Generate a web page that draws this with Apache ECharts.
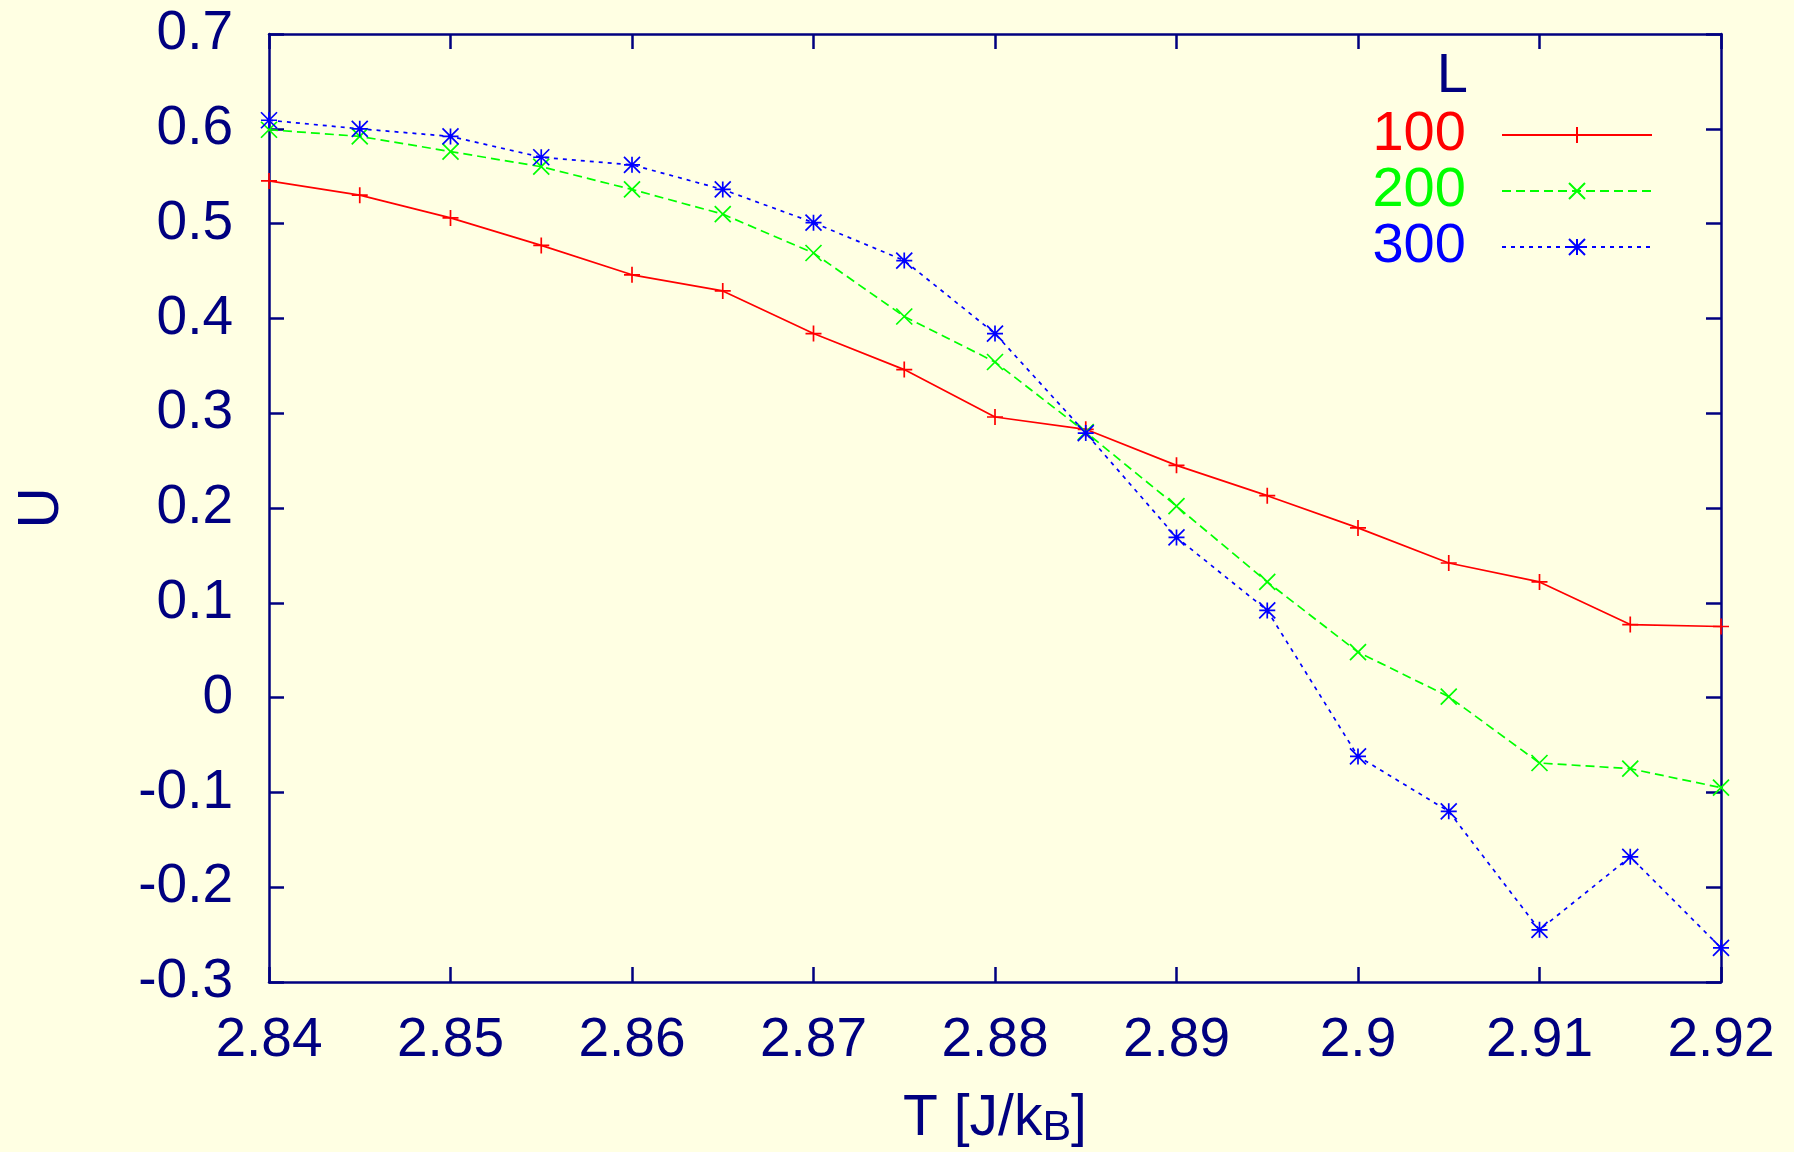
<!DOCTYPE html>
<html>
<head>
<meta charset="utf-8">
<script src="https://cdn.jsdelivr.net/npm/echarts@6/dist/echarts.min.js"></script>
<style>
html,body{margin:0;padding:0;background:#ffffe3;}
#chart{width:1794px;height:1152px;}
</style>
</head>
<body>
<div id="chart"></div>
<script>
// Data
var temperatures = [2.84, 2.845, 2.85, 2.855, 2.86, 2.865, 2.87, 2.875, 2.88, 2.885, 2.89, 2.895, 2.9, 2.905, 2.91, 2.915, 2.92];
var seriesNames = ['100', '200', '300'];
var u100 = [0.545, 0.530, 0.506, 0.477, 0.446, 0.429, 0.384, 0.346, 0.296, 0.283, 0.245, 0.213, 0.179, 0.142, 0.122, 0.077, 0.075];
var u200 = [0.599, 0.592, 0.576, 0.560, 0.536, 0.510, 0.469, 0.402, 0.354, 0.280, 0.202, 0.122, 0.048, 0.001, -0.069, -0.075, -0.095];
var u300 = [0.609, 0.600, 0.592, 0.570, 0.562, 0.536, 0.501, 0.461, 0.384, 0.279, 0.169, 0.092, -0.062, -0.120, -0.245, -0.168, -0.264];
var xTicks = {min: 2.84, max: 2.92, step: 0.01};
var yTicks = {min: -0.3, max: 0.7, step: 0.1};

var navy = '#000080';
var font = 'Liberation Sans';

function zip(xs, ys) { return xs.map(function (x, i) { return [x, ys[i]]; }); }
function fmt(v) { return String(parseFloat(v.toFixed(3))); }

var symPlus = 'path://M0,-1L0,1M-1,0L1,0';
var symCross = 'path://M-1,-1L1,1M-1,1L1,-1';
var symStar = 'path://M0,-1L0,1M-1,0L1,0M-1,-1L1,1M-1,1L1,-1';

var chart = echarts.init(document.getElementById('chart'), null, {renderer: 'canvas'});

var axisLineStyle = {color: navy, width: 2.5};
var tickStyle = {color: navy, width: 2.5};

function makeSeries(name, data, color, symbol, type, size) {
  return {
    name: name,
    type: 'line',
    xAxisIndex: 0,
    yAxisIndex: 0,
    data: zip(temperatures, data),
    symbol: symbol,
    symbolSize: size,
    showAllSymbol: true,
    color: color,
    lineStyle: {color: color, width: 1.7, type: type},
    itemStyle: {color: color, borderColor: color, borderWidth: 1.7},
    emphasis: {disabled: true},
    animation: false,
    z: 3
  };
}

var option = {
  backgroundColor: '#ffffe3',
  animation: false,
  title: {
    text: 'L',
    right: 326,
    top: 49,
    padding: 0,
    textStyle: {color: navy, fontFamily: font, fontSize: 56, fontWeight: 'normal', lineHeight: 56}
  },
  legend: {
    orient: 'vertical',
    align: 'right',
    right: 141,
    top: 107,
    padding: 0,
    itemGap: 0,
    itemWidth: 150,
    itemHeight: 20,
    formatter: function (n) { return n + '  '; },
    textStyle: {fontFamily: font, fontSize: 56, lineHeight: 56},
    data: [
      {name: seriesNames[0], textStyle: {color: '#ff0000'}},
      {name: seriesNames[1], textStyle: {color: '#00ff00'}},
      {name: seriesNames[2], textStyle: {color: '#0000ff'}}
    ],
    selectedMode: false
  },
  grid: {left: 269, top: 34, right: 73, bottom: 170, containLabel: false, outerBoundsMode: 'none'},
  xAxis: [{
    type: 'value',
    position: 'bottom',
    min: xTicks.min, max: xTicks.max, interval: xTicks.step,
    name: '{a|T [J/k}{sub|B}{a|]}',
    nameLocation: 'middle',
    nameGap: 109,
    nameTextStyle: {
      rich: {
        a: {fontFamily: font, fontSize: 57, color: navy, lineHeight: 30, verticalAlign: 'top'},
        sub: {fontFamily: font, fontSize: 43, color: navy, lineHeight: 74}
      }
    },
    axisLine: {show: true, onZero: false, lineStyle: axisLineStyle},
    axisTick: {show: true, inside: true, length: 15, lineStyle: tickStyle},
    axisLabel: {show: true, margin: 33, color: navy, fontFamily: font, fontSize: 55, lineHeight: 52, formatter: fmt},
    splitLine: {show: false}
  }, {
    type: 'value',
    position: 'top',
    min: xTicks.min, max: xTicks.max, interval: xTicks.step,
    axisLine: {show: true, onZero: false, lineStyle: axisLineStyle},
    axisTick: {show: true, inside: true, length: 15, lineStyle: tickStyle},
    axisLabel: {show: false},
    splitLine: {show: false}
  }],
  yAxis: [{
    type: 'value',
    position: 'left',
    min: yTicks.min, max: yTicks.max, interval: yTicks.step,
    name: 'U',
    nameLocation: 'middle',
    nameRotate: 90,
    nameGap: 198,
    nameTextStyle: {color: navy, fontFamily: font, fontSize: 57},
    axisLine: {show: true, onZero: false, lineStyle: axisLineStyle},
    axisTick: {show: true, inside: true, length: 15, lineStyle: tickStyle},
    axisLabel: {show: true, margin: 36, color: navy, fontFamily: font, fontSize: 55, formatter: fmt},
    splitLine: {show: false}
  }, {
    type: 'value',
    position: 'right',
    min: yTicks.min, max: yTicks.max, interval: yTicks.step,
    axisLine: {show: true, onZero: false, lineStyle: axisLineStyle},
    axisTick: {show: true, inside: true, length: 15, lineStyle: tickStyle},
    axisLabel: {show: false},
    splitLine: {show: false}
  }],
  series: [
    makeSeries(seriesNames[0], u100, '#ff0000', symPlus, 'solid', 16),
    makeSeries(seriesNames[1], u200, '#00ff00', symCross, [9, 5], 16),
    makeSeries(seriesNames[2], u300, '#0000ff', symStar, [4, 5], 16)
  ]
};
chart.setOption(option);
</script>
</body>
</html>
